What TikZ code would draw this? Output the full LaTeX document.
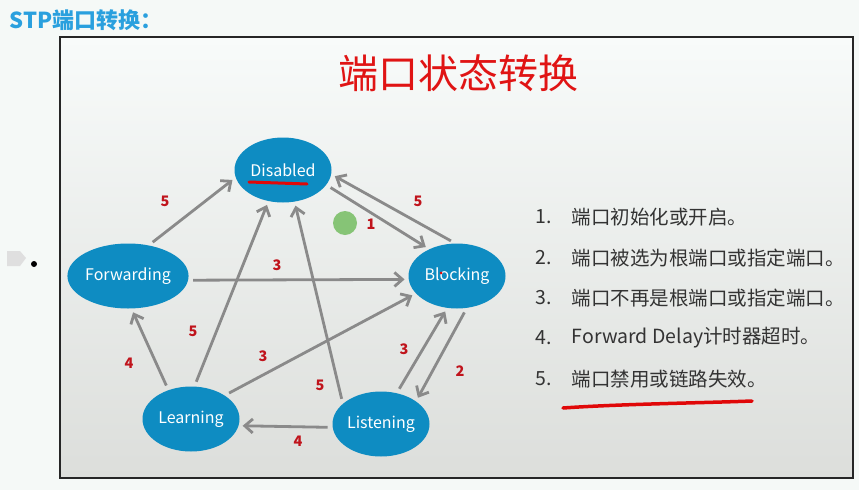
\documentclass[tikz,border=0pt]{standalone}
\usepackage{fontspec}
\usepackage{tikz}
\usepackage{xcolor}
\usetikzlibrary{arrows.meta,positioning,shapes.geometric,calc}
\newfontfamily\cjk{Noto Sans CJK SC}
\definecolor{stateblue}{HTML}{0E8CC2}
\definecolor{arrowgray}{HTML}{8A8A8A}
\definecolor{numred}{HTML}{C0141C}
\definecolor{titlered}{HTML}{E01414}
\definecolor{headblue}{HTML}{2AA0DE}
\definecolor{listgray}{HTML}{333333}
\definecolor{markgreen}{HTML}{7CC06A}
\definecolor{penred}{HTML}{E00808}
\definecolor{pagebg}{HTML}{F5F9F7}
\definecolor{frametop}{HTML}{F8FBFA}
\definecolor{framebot}{HTML}{DCDEDB}

\begin{document}
\begin{tikzpicture}[x=1pt, y=-1pt, >={Straight Barb[length=8pt,width=14pt]},
  every node/.style={font=\cjk},
  state/.style={ellipse, fill=stateblue, text=white, minimum width=97pt, minimum height=65pt, inner sep=0pt, font=\cjk\fontsize{16}{19}\selectfont},
  trans/.style={->, draw=arrowgray, line width=2.8pt, shorten <=5pt, shorten >=4pt},
  num/.style={text=numred, font=\cjk\bfseries\fontsize{14.5}{17}\selectfont},
  item/.style={anchor=west, inner sep=0pt, text=listgray, font=\cjk\fontsize{19.5}{23}\selectfont}]
  \useasboundingbox (0,0) rectangle (859,490);
  \fill[pagebg] (0,0) rectangle (859,490);
  \fill[gray!25] (7,251) -- (20,251) -- (26,258) -- (20,266) -- (7,266) -- cycle;
  \fill[black] (34,264) circle (3pt);
  \node[anchor=west, text=headblue, font=\cjk\bfseries\fontsize{22}{26}\selectfont] (head) at (6,20) {STP端口转换：};
  \draw[line width=2pt, draw=black!85, top color=frametop, bottom color=framebot] (60,37) rectangle (853,478);
  \node[text=titlered, font=\cjk\fontsize{40}{46}\selectfont] (title) at (458,73) {端口状态转换};

  % states
  \node[state] (disabled) at (283,170) {Disabled};
  \node[state] (forwarding) at (128,276) {Forwarding};
  \node[state] (blocking) at (457,276) {Blocking};
  \node[state] (learning) at (191,419) {Learning};
  \node[state] (listening) at (381,424) {Listening};

  % transitions
  \draw[trans] (forwarding.56) -- (disabled.189);
  \draw[trans] (disabled.341) -- (blocking.136);
  \draw[trans] (blocking.93) -- (disabled.355);
  \draw[trans] (forwarding.356) -- (blocking.184);
  \draw[trans] (learning.84) -- (disabled.245);
  \draw[trans] (listening.152) -- (disabled.290);
  \draw[trans] (learning.35) -- (blocking.203);
  \draw[trans] (listening.63) -- (blocking.253);
  \draw[trans] (blocking.287) -- (listening.33);
  \draw[trans] (listening.184) -- (learning.352);
  \draw[trans] (learning.128) -- (forwarding.276);

  \node[num] (n1) at (165,201) {5};
  \node[num] (n2) at (371,224) {1};
  \node[num] (n3) at (418,201) {5};
  \node[num] (n4) at (277,265) {3};
  \node[num] (n5) at (193,331) {5};
  \node[num] (n6) at (129,363) {4};
  \node[num] (n7) at (263,356) {3};
  \node[num] (n8) at (320,385) {5};
  \node[num] (n9) at (404,349) {3};
  \node[num] (n10) at (460,371) {2};
  \node[num] (n11) at (298,441) {4};

  % list
  \node[item] (i1) at (535,217) {1.};
  \node[item, right=20pt of i1] (t1) {端口初始化或开启。};
  \node[item] (i2) at (535,258) {2.};
  \node[item, right=20pt of i2] (t2) {端口被选为根端口或指定端口。};
  \node[item] (i3) at (535,298) {3.};
  \node[item, right=20pt of i3] (t3) {端口不再是根端口或指定端口。};
  \node[item] (i4) at (535,338) {4.};
  \node[item, right=20pt of i4] (t4) {Forward Delay计时器超时。};
  \node[item] (i5) at (535,379) {5.};
  \node[item, right=20pt of i5] (t5) {端口禁用或链路失效。};

  % pen marks
  \draw[penred, line width=3pt, line cap=round] (249,182) -- (307,184);
  \draw[penred, line width=3.5pt, line cap=round] (563,408) .. controls (620,404) and (700,403) .. (752,401);
  \fill[markgreen, opacity=0.9] (345,223) circle (12pt);
  \fill[penred] (441,273) circle (1.5pt);
\end{tikzpicture}
\end{document}
